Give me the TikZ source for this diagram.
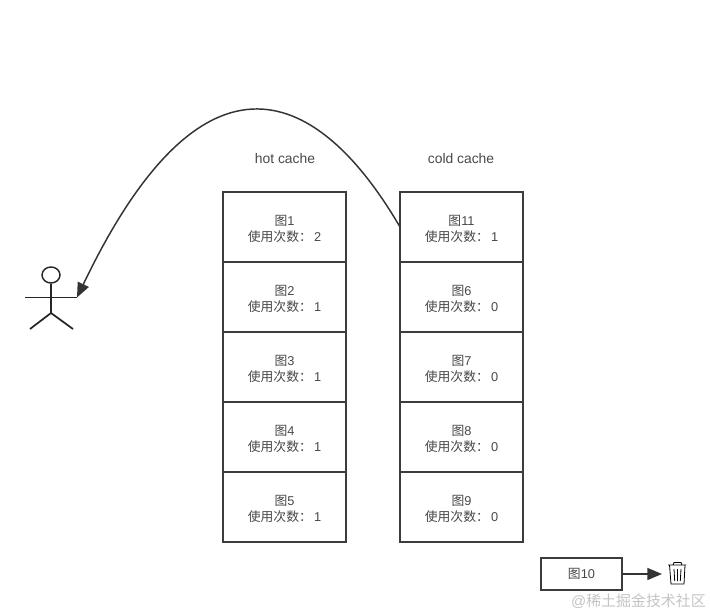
\documentclass[tikz,border=0pt]{standalone}
\usepackage{fontspec}
\setmainfont{Liberation Sans}
\newfontfamily\cjkfont{Noto Sans CJK SC}
\usetikzlibrary{arrows.meta,positioning,shapes.geometric}
\definecolor{cacheline}{HTML}{3C3C3C}
\definecolor{cachetext}{HTML}{484848}
\definecolor{markgray}{HTML}{C4C4C4}
\newcommand{\tu}[1]{\rule{0pt}{9.9pt}{\cjkfont 图}#1}
\newcommand{\cishu}[1]{{\cjkfont 使用次数：}\,#1}

\begin{document}
\begin{tikzpicture}[
    x=0.75pt, y=-0.75pt,
    node distance=0pt,
    box/.style={rectangle, draw=cacheline, fill=white, line width=1.1pt, outer sep=0pt, minimum width=92.25pt, minimum height=52.5pt, align=center, text=cachetext, font=\fontsize{9.6}{12}\selectfont},
    title/.style={text=cachetext, font=\fontsize{10.4}{12}\selectfont},
    arr/.style={-{Triangle[length=11pt,width=9pt]}, line width=1.1pt, black!80},
    man/.style={line width=1.3pt, black!85}
]
\useasboundingbox (0,0) rectangle (710,615);
% hot cache
\node[box, anchor=north west] (h1) at (223,192) {\tu{1}\\\cishu{2}};
\node[box, below=of h1] (h2) {\tu{2}\\\cishu{1}};
\node[box, below=of h2] (h3) {\tu{3}\\\cishu{1}};
\node[box, below=of h3] (h4) {\tu{4}\\\cishu{1}};
\node[box, below=of h4] (h5) {\tu{5}\\\cishu{1}};
% cold cache
\node[box, anchor=north west] (c1) at (400,192) {\tu{11}\\\cishu{1}};
\node[box, below=of c1] (c2) {\tu{6}\\\cishu{0}};
\node[box, below=of c2] (c3) {\tu{7}\\\cishu{0}};
\node[box, below=of c3] (c4) {\tu{8}\\\cishu{0}};
\node[box, below=of c4] (c5) {\tu{9}\\\cishu{0}};
\node[title] (hot) at (285,158.5) {hot cache};
\node[title] (cold) at (461,158.5) {cold cache};
% evicted
\node[box, minimum width=60.75pt, minimum height=24pt, anchor=north west] (h10) at (541,558) {{\cjkfont 图}10};
\coordinate (bin) at (662,574);
\draw[arr] (h10) -- (bin);
% trash can
\draw[line width=0.6pt, black] (668,565) -- (686,565) (673,565) -- (674,562.5) -- (681,562.5) -- (682,565);
\draw[line width=0.6pt, black] (669.5,565) -- (671,584) -- (684,584) -- (685,565);
\draw[line width=0.6pt, black] (674,569) -- (674.7,581) (677.5,569) -- (677.5,581) (681,569) -- (680.3,581);
% stick man
\node[draw=black!85, line width=1.1pt, ellipse, inner sep=0pt, minimum width=13.5pt, minimum height=12pt] (head) at (51,275) {};
\coordinate (hand) at (77,297.5);
\coordinate (lhand) at (25,297.5);
\coordinate (hip) at (51,313);
\coordinate (lfoot) at (30,329);
\coordinate (rfoot) at (73,329);
\draw[man] (head.south) -- (hip);
\draw[man] (lhand) -- (hand);
\draw[man] (lfoot) -- (hip) -- (rfoot);
% back to the reader
\draw[arr] (c1.west) .. controls (320,90) and (205,30) .. (hand);
\node[text=markgray, font=\fontsize{11.2}{12}\selectfont, anchor=east, inner sep=0pt] (mark) at (706,601) {@{\cjkfont 稀土掘金技术社区}};
\end{tikzpicture}
\end{document}
